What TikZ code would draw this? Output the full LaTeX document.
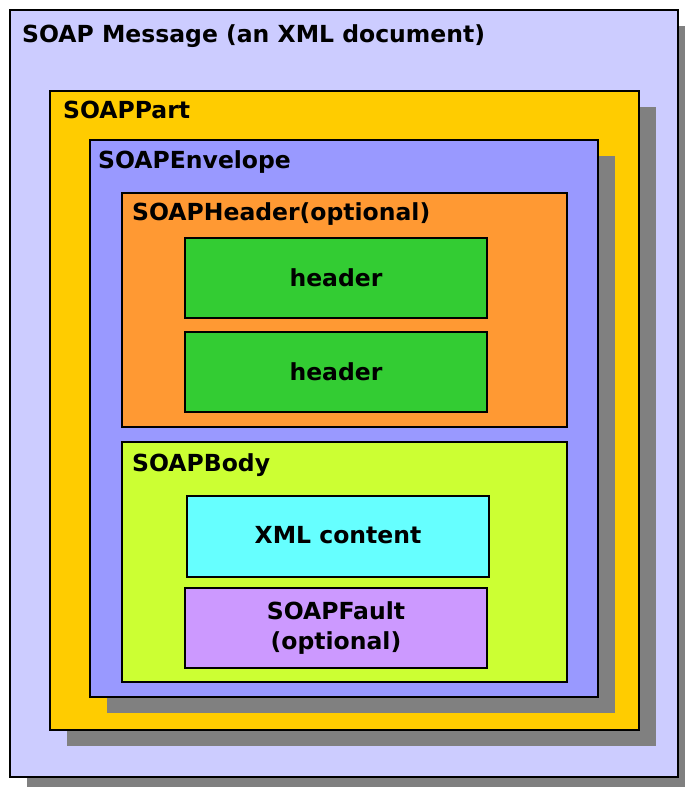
\documentclass[tikz,border=0pt]{standalone}
\usepackage{fontspec}
\setmainfont{DejaVu Sans}
\usetikzlibrary{shadows}

\begin{document}
\begin{tikzpicture}[x=1pt, y=-1pt,
        font=\fontsize{23.5}{30}\selectfont\bfseries,
        box/.style={rectangle, draw, line width=2pt, inner sep=0pt},
        shadowed/.style={drop shadow={shadow xshift=17pt, shadow yshift=-16pt, opacity=1, fill=gray}},
        title/.style={anchor=west, inner sep=0pt}]

        \useasboundingbox (0,0) rectangle (685,787);

        % Nested parts
        \node[box, shadowed, fill={rgb,255:red,204;green,204;blue,255}, minimum width=668pt, minimum height=767pt] (msg) at (344,393.5) {};
        \node[box, shadowed, fill={rgb,255:red,255;green,204;blue,0}, minimum width=589pt, minimum height=639pt] (part) at (344.5,410.5) {};
        \node[box, shadowed, fill={rgb,255:red,153;green,153;blue,255}, minimum width=508pt, minimum height=557pt] (env) at (344,418.5) {};
        \node[box, fill={rgb,255:red,255;green,153;blue,51}, minimum width=445pt, minimum height=234pt] (hdr) at (344.5,310) {};
        \node[box, fill={rgb,255:red,204;green,255;blue,51}, minimum width=445pt, minimum height=240pt] (body) at (344.5,562) {};

        % Contents
        \node[box, fill={rgb,255:red,51;green,204;blue,51}, minimum width=302pt, minimum height=80pt] (h1) at (336,278) {header};
        \node[box, fill={rgb,255:red,51;green,204;blue,51}, minimum width=302pt, minimum height=80pt] (h2) at (336,372) {header};
        \node[box, fill={rgb,255:red,102;green,255;blue,255}, minimum width=302pt, minimum height=81pt] (xml) at (338,536.5) {\raisebox{3pt}{XML content}};
        \node[box, fill={rgb,255:red,204;green,153;blue,255}, minimum width=302pt, minimum height=80pt, align=center] (fault) at (336,628) {SOAPFault\\(optional)};

        % Titles
        \node[title] (tmsg) at (22,36) {SOAP Message (an XML document)};
        \node[title] (tpart) at (63,110) {SOAPPart};
        \node[title] (tenv) at (98,162) {SOAPEnvelope};
        \node[title] (thdr) at (132,214) {SOAPHeader(optional)};
        \node[title] (tbody) at (132,465) {SOAPBody};
    \end{tikzpicture}
\end{document}
